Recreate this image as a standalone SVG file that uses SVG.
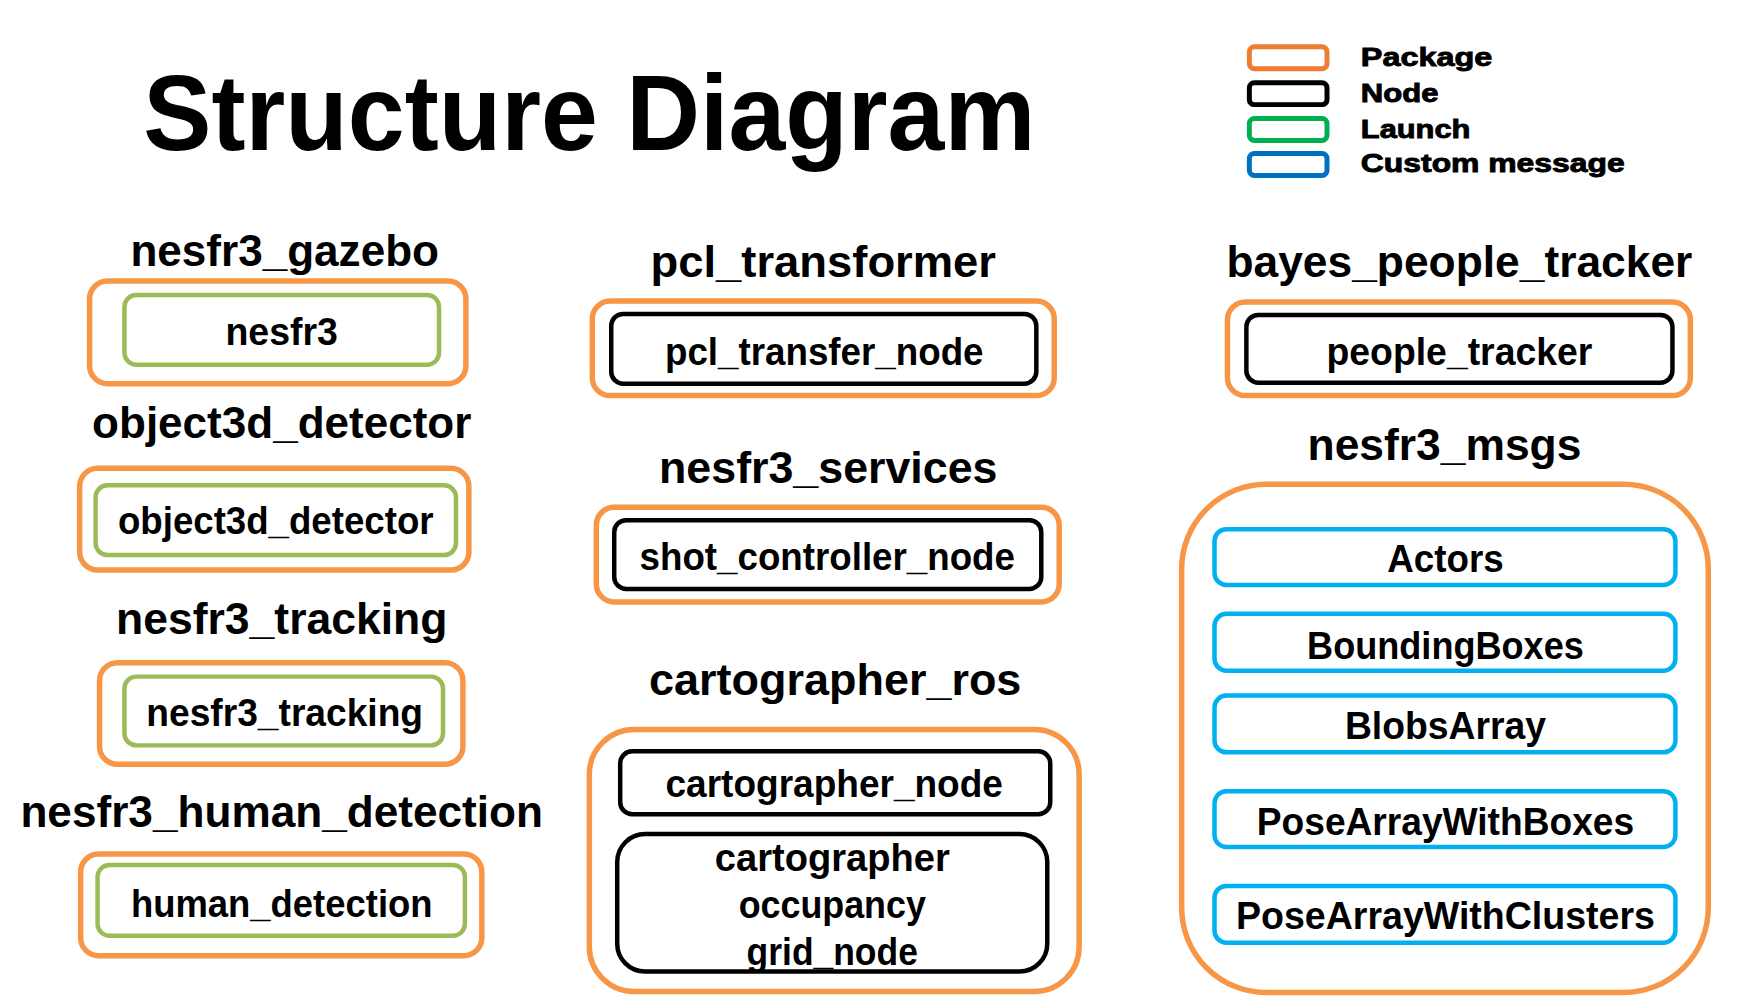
<svg xmlns="http://www.w3.org/2000/svg" width="1751" height="1005" viewBox="0 0 1751 1005">
<style>
text{font-family:"Liberation Sans",Arial,sans-serif;font-weight:bold;fill:#000;text-anchor:middle}
.title{font-size:108px}
.pl{font-size:45px}
.nl{font-size:38px}
.leg{font-size:26px;text-anchor:start;stroke:#000;stroke-width:0.9}
.pkg{fill:#fff;stroke:#F79646;stroke-width:5.5}
.node{fill:#fff;stroke:#000;stroke-width:4.5}
.launch{fill:#fff;stroke:#9BBB59;stroke-width:4.5}
.msg{fill:#fff;stroke:#00B0F0;stroke-width:4.5}
.lg{fill:#fff;stroke-width:5}
</style>
<rect width="1751" height="1005" fill="#fff"/>
<g transform="scale(0.9955 0.9965)">
<g id="title"><text class="title" x="592" y="151" textLength="896" lengthAdjust="spacingAndGlyphs">Structure Diagram</text></g>
<g id="legend">
<rect class="lg" x="1255" y="47" width="78" height="22" rx="5" stroke="#ED7D31"/>
<rect class="lg" x="1255" y="83" width="78" height="22" rx="5" stroke="#000"/>
<rect class="lg" x="1255" y="119" width="78" height="22" rx="5" stroke="#00B050"/>
<rect class="lg" x="1255" y="154" width="78" height="22" rx="5" stroke="#0070C0"/>
<text class="leg" x="1367" y="66" textLength="132" lengthAdjust="spacingAndGlyphs">Package</text>
<text class="leg" x="1367" y="102" textLength="78" lengthAdjust="spacingAndGlyphs">Node</text>
<text class="leg" x="1367" y="138" textLength="110" lengthAdjust="spacingAndGlyphs">Launch</text>
<text class="leg" x="1367" y="173" textLength="265" lengthAdjust="spacingAndGlyphs">Custom message</text>
</g>
<g id="connectors"></g>
<g id="nesfr3_gazebo">
<text class="pl" x="286" y="267" textLength="310" lengthAdjust="spacingAndGlyphs">nesfr3_gazebo</text>
<rect class="pkg" x="90" y="282" width="378" height="103" rx="18"/>
<rect class="launch" x="125" y="296" width="316" height="70" rx="12"/>
<text class="nl" x="283" y="346" textLength="113" lengthAdjust="spacingAndGlyphs">nesfr3</text>
</g>
<g id="object3d_detector">
<text class="pl" x="283" y="440" textLength="381" lengthAdjust="spacingAndGlyphs">object3d_detector</text>
<rect class="pkg" x="80" y="470" width="391" height="102" rx="18"/>
<rect class="launch" x="96" y="487" width="362" height="70" rx="12"/>
<text class="nl" x="277" y="536" textLength="317" lengthAdjust="spacingAndGlyphs">object3d_detector</text>
</g>
<g id="nesfr3_tracking">
<text class="pl" x="283" y="636" textLength="333" lengthAdjust="spacingAndGlyphs">nesfr3_tracking</text>
<rect class="pkg" x="100" y="665" width="365" height="102" rx="18"/>
<rect class="launch" x="125" y="679" width="320" height="69" rx="12"/>
<text class="nl" x="286" y="729" textLength="278" lengthAdjust="spacingAndGlyphs">nesfr3_tracking</text>
</g>
<g id="nesfr3_human_detection">
<text class="pl" x="283" y="830" textLength="525" lengthAdjust="spacingAndGlyphs">nesfr3_human_detection</text>
<rect class="pkg" x="81" y="857" width="403" height="102" rx="18"/>
<rect class="launch" x="98" y="868" width="369" height="71" rx="12"/>
<text class="nl" x="283" y="920" textLength="303" lengthAdjust="spacingAndGlyphs">human_detection</text>
</g>
<g id="pcl_transformer">
<text class="pl" x="827" y="278" textLength="347" lengthAdjust="spacingAndGlyphs">pcl_transformer</text>
<rect class="pkg" x="595" y="302" width="464" height="95" rx="18"/>
<rect class="node" x="614" y="315" width="427" height="70" rx="12"/>
<text class="nl" x="828" y="366" textLength="320" lengthAdjust="spacingAndGlyphs">pcl_transfer_node</text>
</g>
<g id="nesfr3_services">
<text class="pl" x="832" y="485" textLength="340" lengthAdjust="spacingAndGlyphs">nesfr3_services</text>
<rect class="pkg" x="599" y="509" width="465" height="95" rx="18"/>
<rect class="node" x="617" y="522" width="429" height="69" rx="12"/>
<text class="nl" x="831" y="572" textLength="377" lengthAdjust="spacingAndGlyphs">shot_controller_node</text>
</g>
<g id="cartographer_ros">
<text class="pl" x="839" y="697" textLength="374" lengthAdjust="spacingAndGlyphs">cartographer_ros</text>
<rect class="pkg" x="592" y="732" width="492" height="263" rx="45"/>
<rect class="node" x="623" y="754" width="432" height="63" rx="12"/>
<text class="nl" x="838" y="800" textLength="339" lengthAdjust="spacingAndGlyphs">cartographer_node</text>
<rect class="node" x="620" y="837" width="432" height="138" rx="28"/>
<text class="nl" x="836" y="874" textLength="236" lengthAdjust="spacingAndGlyphs">cartographer</text>
<text class="nl" x="836" y="921" textLength="188" lengthAdjust="spacingAndGlyphs">occupancy</text>
<text class="nl" x="836" y="968" textLength="172" lengthAdjust="spacingAndGlyphs">grid_node</text>
</g>
<g id="bayes_people_tracker">
<text class="pl" x="1466" y="278" textLength="468" lengthAdjust="spacingAndGlyphs">bayes_people_tracker</text>
<rect class="pkg" x="1233" y="303" width="465" height="94" rx="18"/>
<rect class="node" x="1252" y="316" width="428" height="68" rx="12"/>
<text class="nl" x="1466" y="366" textLength="267" lengthAdjust="spacingAndGlyphs">people_tracker</text>
</g>
<g id="nesfr3_msgs">
<text class="pl" x="1451" y="462" textLength="275" lengthAdjust="spacingAndGlyphs">nesfr3_msgs</text>
<rect class="pkg" x="1187" y="486" width="529" height="510" rx="85"/>
<rect class="msg" x="1220" y="531" width="463" height="56" rx="12"/>
<text class="nl" x="1452" y="574" textLength="117" lengthAdjust="spacingAndGlyphs">Actors</text>
<rect class="msg" x="1220" y="616" width="463" height="57" rx="12"/>
<text class="nl" x="1452" y="661" textLength="278" lengthAdjust="spacingAndGlyphs">BoundingBoxes</text>
<rect class="msg" x="1220" y="698" width="463" height="57" rx="12"/>
<text class="nl" x="1452" y="742" textLength="202" lengthAdjust="spacingAndGlyphs">BlobsArray</text>
<rect class="msg" x="1220" y="794" width="463" height="56" rx="12"/>
<text class="nl" x="1452" y="838" textLength="379" lengthAdjust="spacingAndGlyphs">PoseArrayWithBoxes</text>
<rect class="msg" x="1220" y="889" width="463" height="57" rx="12"/>
<text class="nl" x="1452" y="932" textLength="421" lengthAdjust="spacingAndGlyphs">PoseArrayWithClusters</text>
</g>
</g>
</svg>
